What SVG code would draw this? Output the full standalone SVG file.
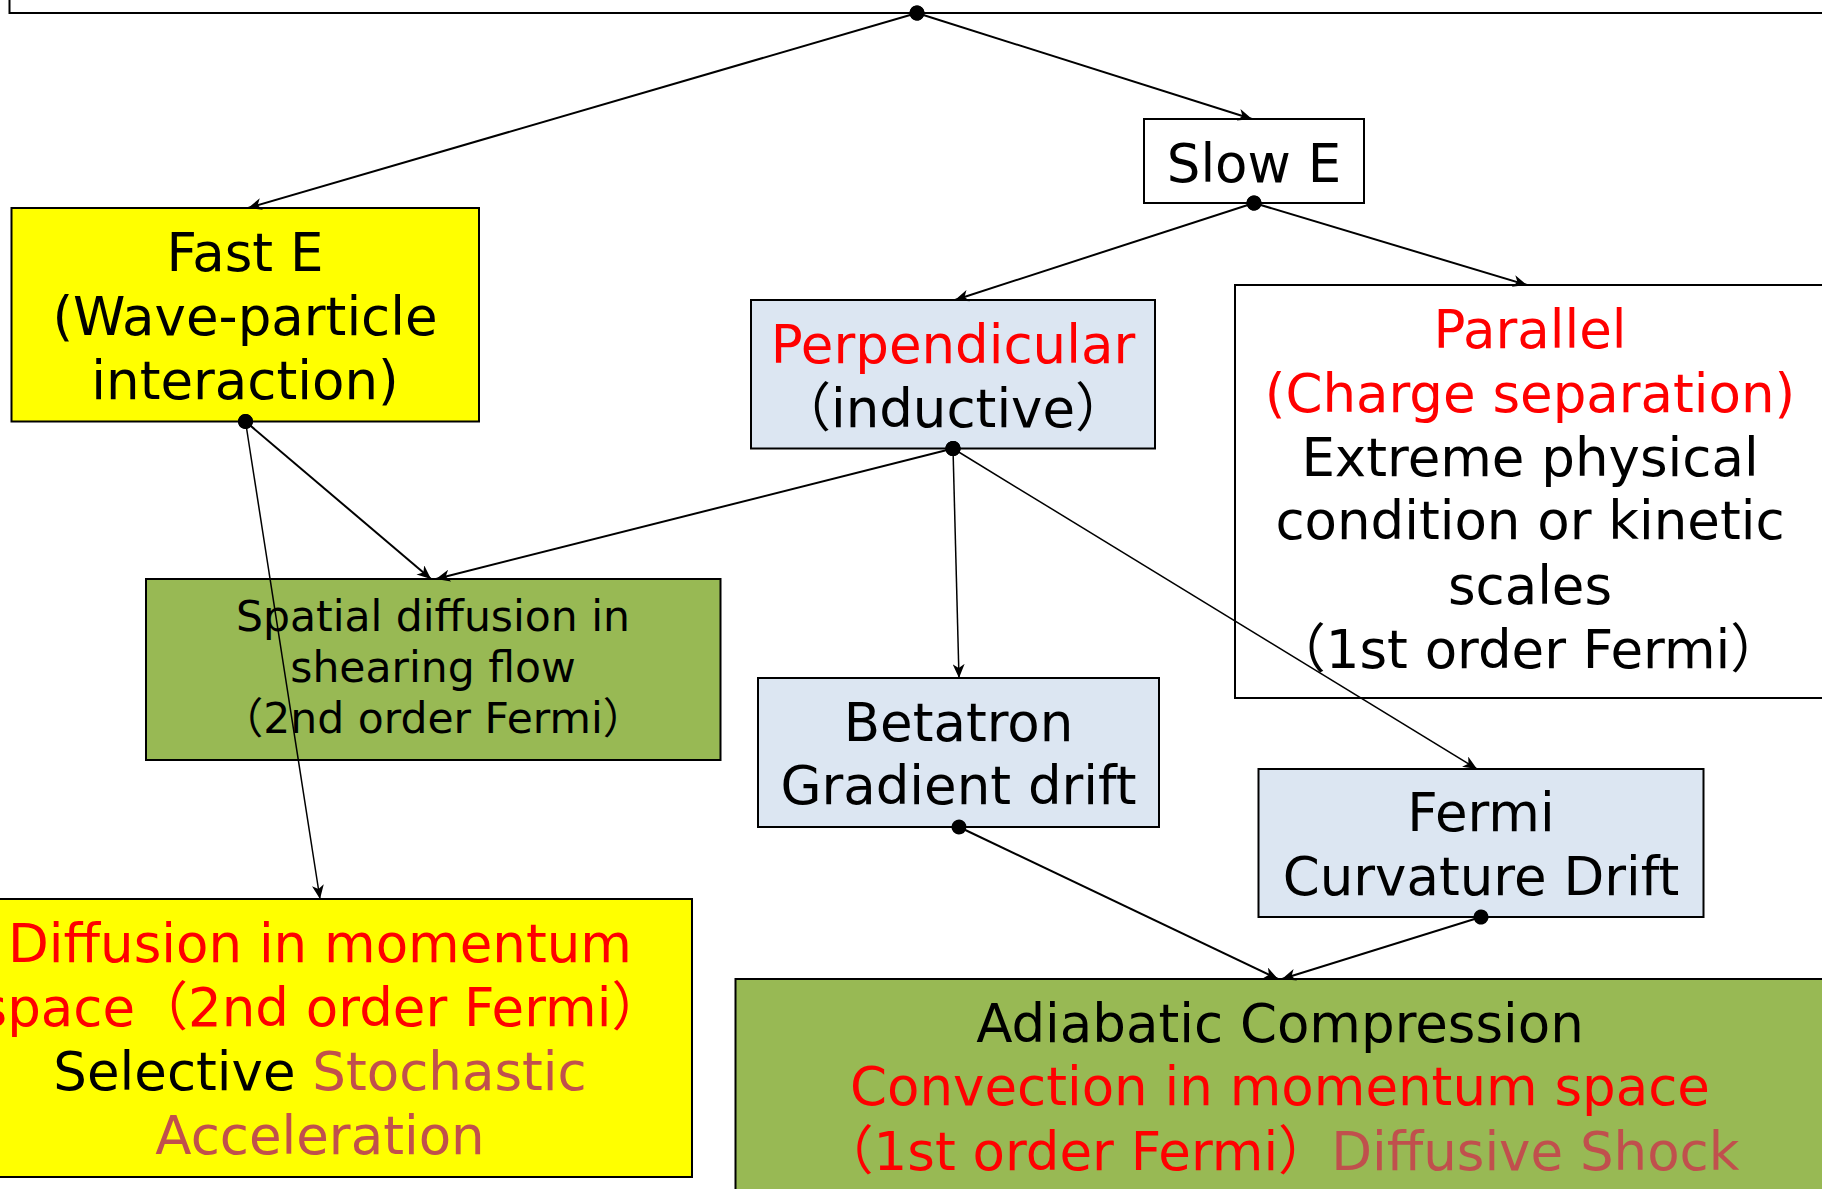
<svg xmlns="http://www.w3.org/2000/svg" width="1822" height="1189" viewBox="0 0 1822 1189">
<style>
.box{stroke:#000;stroke-width:2}
.white{fill:#fff}
.yellow{fill:#ffff00}
.green{fill:#98b954}
.blue{fill:#dce6f2}
text{font-family:"DejaVu Sans","Noto Sans CJK SC",sans-serif;text-anchor:middle;fill:#000}
.big{font-size:53px}
.mid{font-size:42.5px}
.red{fill:#ff0000}
.brown{fill:#c0504d}
.conn{fill:none;stroke:#000;stroke-width:2;marker-start:url(#dot);marker-end:url(#arrow)}
.thin{stroke-width:1.5}
</style>
<defs>
<marker id="arrow" markerUnits="userSpaceOnUse" viewBox="0 0 14 12" refX="14" refY="6" markerWidth="14" markerHeight="12" orient="auto">
<path d="M0,0 L14,6 L0,12 L4,6 Z" fill="#000"/>
</marker>
<marker id="dot" markerUnits="userSpaceOnUse" viewBox="0 0 16 16" refX="8" refY="8" markerWidth="16" markerHeight="16" orient="auto">
<circle cx="8" cy="8" r="7.5" fill="#000"/>
</marker>
</defs>
<rect width="1822" height="1189" fill="#fff"/>
<g id="top">
<rect class="box white" x="9.5" y="-60" width="1830" height="73"/>
</g>
<g id="slowE">
<rect class="box white" x="1144" y="119" width="220" height="84"/>
<text class="big" x="1254" y="181.5">Slow E</text>
</g>
<g id="fastE">
<rect class="box yellow" x="11.5" y="208" width="467.5" height="213.5"/>
<text class="big" x="245" y="270.5">Fast E</text>
<text class="big" x="245" y="334.5">(Wave-particle</text>
<text class="big" x="245" y="398.5">interaction)</text>
</g>
<g id="perpendicular">
<rect class="box blue" x="751" y="300" width="404" height="148.5"/>
<text class="big red" x="953" y="362.5">Perpendicular</text>
<text class="big" x="953" y="426.5">（inductive）</text>
</g>
<g id="parallel">
<rect class="box white" x="1235" y="285" width="600" height="413"/>
<text class="big red" x="1530" y="347.5">Parallel</text>
<text class="big red" x="1530" y="411.5">(Charge separation)</text>
<text class="big" x="1530" y="475.5">Extreme physical</text>
<text class="big" x="1530" y="539">condition or kinetic</text>
<text class="big" x="1530" y="603.5">scales</text>
<text class="big" x="1528" y="667.5">（1st order Fermi）</text>
</g>
<g id="spatial">
<rect class="box green" x="146" y="579" width="574.5" height="181"/>
<text class="mid" x="433" y="631">Spatial diffusion in</text>
<text class="mid" x="433" y="682">shearing flow</text>
<text class="mid" x="433" y="733">（2nd order Fermi）</text>
</g>
<g id="betatron">
<rect class="box blue" x="758" y="678" width="401" height="149"/>
<text class="big" x="958.5" y="740.5">Betatron</text>
<text class="big" x="958.5" y="804">Gradient drift</text>
</g>
<g id="fermi">
<rect class="box blue" x="1258.5" y="769" width="445" height="148"/>
<text class="big" x="1481" y="831">Fermi</text>
<text class="big" x="1481" y="895">Curvature Drift</text>
</g>
<g id="diffusion">
<rect class="box yellow" x="-60" y="899" width="752" height="278"/>
<text class="big red" x="320" y="961.5">Diffusion in momentum</text>
<text class="big red" x="322" y="1025.5">space（2nd order Fermi）</text>
<text class="big" x="320" y="1089.5">Selective <tspan class="brown">Stochastic</tspan></text>
<text class="big brown" x="320" y="1153.5">Acceleration</text>
</g>
<g id="adiabatic">
<rect class="box green" x="735.5" y="979" width="1100" height="300"/>
<text class="big" x="1280" y="1041.5">Adiabatic Compression</text>
<text class="big red" x="1280" y="1105">Convection in momentum space</text>
<text class="big red" x="1280" y="1169.5">（1st order Fermi）<tspan class="brown">Diffusive Shock</tspan></text>
</g>
<g id="connectors">
<line class="conn" x1="917" y1="13" x2="248" y2="208"/>
<line class="conn" x1="917" y1="13" x2="1252" y2="119"/>
<line class="conn" x1="1254" y1="203" x2="955" y2="300"/>
<line class="conn" x1="1254" y1="203" x2="1527" y2="285"/>
<line class="conn" x1="245.5" y1="421.5" x2="431" y2="579"/>
<line class="conn thin" x1="245.5" y1="421.5" x2="320" y2="899"/>
<line class="conn" x1="953" y1="448.5" x2="436" y2="579"/>
<line class="conn thin" x1="953" y1="448.5" x2="959" y2="678"/>
<line class="conn thin" x1="953" y1="448.5" x2="1477" y2="769"/>
<line class="conn" x1="959" y1="827" x2="1278" y2="979"/>
<line class="conn" x1="1481" y1="917" x2="1282" y2="979"/>
</g>
</svg>
